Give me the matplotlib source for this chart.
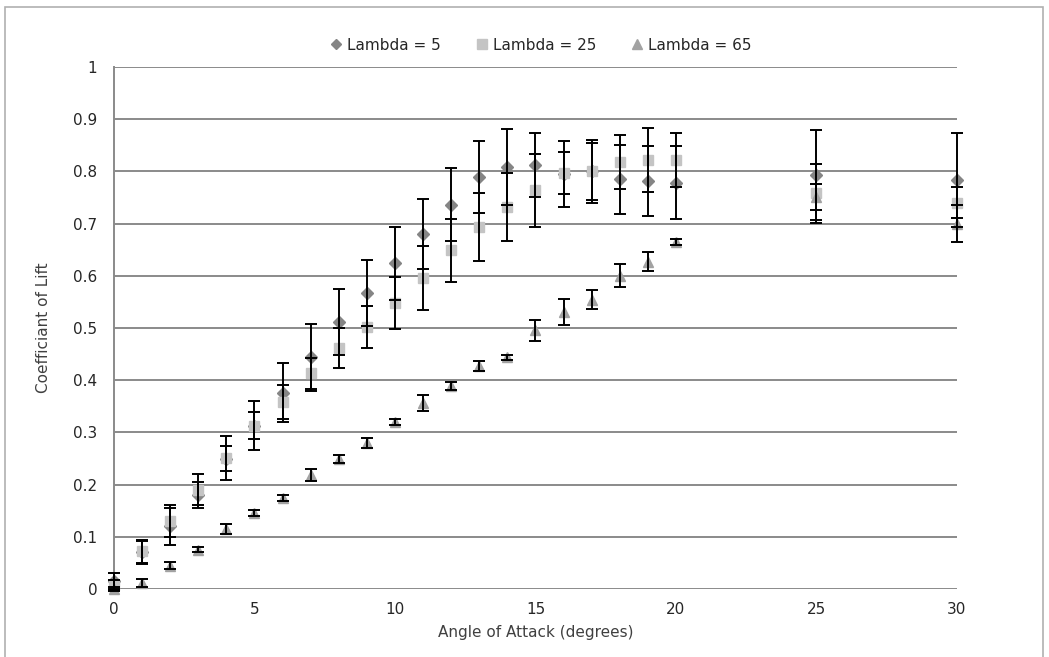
import matplotlib
matplotlib.use("Agg")
import matplotlib.pyplot as plt
from matplotlib.lines import Line2D
from matplotlib.patches import Rectangle

angles = [0, 1, 2, 3, 4, 5, 6, 7, 8, 9, 10, 11, 12, 13, 14, 15, 16, 17, 18, 19, 20, 25, 30]

cl_l5 = [0.015, 0.07, 0.12, 0.18, 0.25, 0.313, 0.376, 0.444, 0.512, 0.567, 0.624, 0.68,
         0.736, 0.789, 0.808, 0.812, 0.795, 0.80, 0.785, 0.782, 0.778, 0.793, 0.783]
err_l5 = [0.015, 0.022, 0.035, 0.025, 0.023, 0.026, 0.056, 0.064, 0.063, 0.063, 0.07, 0.067,
          0.07, 0.069, 0.073, 0.061, 0.063, 0.06, 0.066, 0.067, 0.07, 0.087, 0.09]

cl_l25 = [0.008, 0.072, 0.13, 0.19, 0.251, 0.313, 0.358, 0.413, 0.462, 0.502, 0.548, 0.596,
          0.649, 0.694, 0.732, 0.764, 0.797, 0.80, 0.818, 0.822, 0.822, 0.758, 0.74]
err_l25 = [0.01, 0.022, 0.03, 0.03, 0.042, 0.047, 0.032, 0.03, 0.038, 0.04, 0.05, 0.062,
           0.06, 0.065, 0.065, 0.07, 0.04, 0.055, 0.051, 0.062, 0.051, 0.057, 0.03]

cl_l65 = [0.0, 0.012, 0.045, 0.075, 0.115, 0.146, 0.174, 0.218, 0.249, 0.28, 0.32, 0.356,
          0.389, 0.427, 0.444, 0.496, 0.53, 0.554, 0.60, 0.627, 0.665, 0.751, 0.70]
err_l65 = [0.003, 0.008, 0.006, 0.005, 0.01, 0.006, 0.006, 0.012, 0.008, 0.01, 0.006, 0.015,
           0.008, 0.01, 0.005, 0.02, 0.025, 0.018, 0.022, 0.018, 0.006, 0.025, 0.035]

series = [
    ("Lambda = 5", cl_l5, err_l5, "D", "#858585", 6.3),
    ("Lambda = 25", cl_l25, err_l25, "s", "#c4c4c4", 7.3),
    ("Lambda = 65", cl_l65, err_l65, "^", "#a2a2a2", 7.5),
]

x_ticks = [0, 5, 10, 15, 20, 25, 30]
y_ticks = [0, 0.1, 0.2, 0.3, 0.4, 0.5, 0.6, 0.7, 0.8, 0.9, 1]
y_tick_labels = ["0", "0.1", "0.2", "0.3", "0.4", "0.5", "0.6", "0.7", "0.8", "0.9", "1"]

plt.rcParams['font.family'] = ['DejaVu Sans']

fig = plt.figure(figsize=(10.49, 6.57), dpi=100)
ax = fig.add_axes([114 / 1049, 1 - 589 / 657, (957 - 114) / 1049, (589 - 67) / 657])

# outer chart border
fig.patches.append(Rectangle((5 / 1049, -0.01), 1038 / 1049, 1 - 7 / 657 + 0.01,
                             transform=fig.transFigure, fill=False,
                             edgecolor="#b0b0b0", linewidth=1.2))

ax.set_xlim(0, 30)
ax.set_ylim(0, 1)
for yv in y_ticks[1:]:
    ax.axhline(yv, color="#8a8a8a", linewidth=1.4, zorder=1)
ax.axhline(0, color="#8a8a8a", linewidth=1.4, zorder=1)

handles = []
for label, vals, errs, mk, col, ms in series:
    ax.plot(angles, vals, linestyle="none", marker=mk, markersize=ms,
            markerfacecolor=col, markeredgecolor=col, zorder=3, clip_on=False)
    eb = ax.errorbar(angles, vals, yerr=errs, fmt="none", ecolor="black",
                     elinewidth=1.4, capsize=4.5, capthick=1.4, zorder=4)
    for part in eb.lines[1] + eb.lines[2]:
        part.set_clip_on(False)
    handles.append(Line2D([], [], linestyle="none", marker=mk, markersize=ms - 0.8,
                          markerfacecolor=col, markeredgecolor=col, label=label))

for side in ["top", "right", "bottom"]:
    ax.spines[side].set_visible(False)
ax.spines["left"].set_color("#8a8a8a")
ax.spines["left"].set_linewidth(1.4)

ax.set_xticks(x_ticks)
ax.set_xticklabels([str(v) for v in x_ticks])
ax.set_yticks(y_ticks)
ax.set_yticklabels(y_tick_labels)
ax.tick_params(axis="both", length=0, labelsize=11, labelcolor="#262626")
ax.tick_params(axis="x", pad=9)
ax.tick_params(axis="y", pad=12)

ax.set_xlabel("Angle of Attack (degrees)", fontsize=11, color="#404040", labelpad=6)
ax.set_ylabel("Coefficiant of Lift", fontsize=11, color="#404040", labelpad=16)

fig.legend(handles=handles, loc="center", bbox_to_anchor=(540 / 1049, 1 - 45 / 657),
           ncol=3, frameon=False, fontsize=11, handletextpad=0.2, columnspacing=2.2,
           handlelength=1.0, labelcolor="#262626")

fig.savefig("out.png", dpi=100)
